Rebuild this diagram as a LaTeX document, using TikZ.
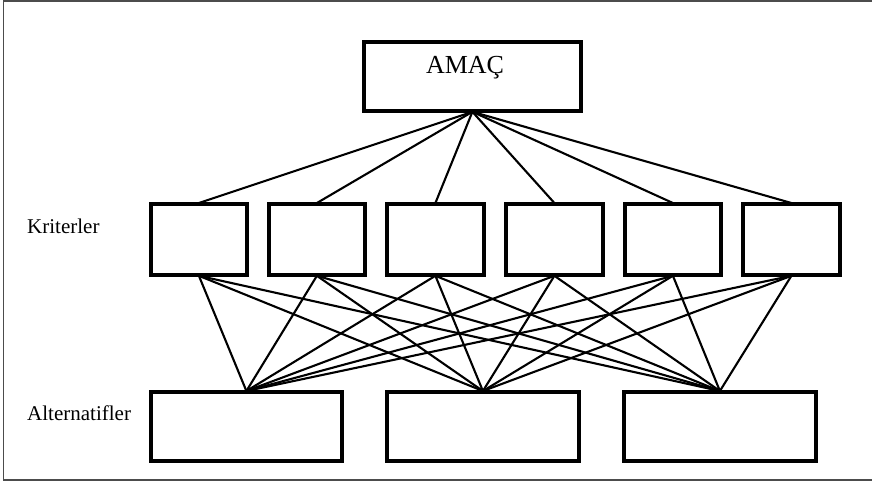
\documentclass[tikz,border=0pt]{standalone}
\usepackage{fontspec}
\setmainfont{Liberation Serif}
\begin{document}
\begin{tikzpicture}[x=1pt,y=-1pt,
  box/.style={draw=black,line width=2.8pt,fill=white,rectangle,inner sep=0pt,anchor=north west},
  conn/.style={draw=black,line width=2.1pt},
  lbl/.style={font=\fontsize{21}{24}\selectfont,inner sep=0pt,anchor=west}]
\useasboundingbox (0,0) rectangle (872,483);
\begin{scope}
\clip (0,0) rectangle (872,483);
\draw[line width=1.8pt,draw=black!70] (3.5,1) rectangle (880,480);
\end{scope}
% goal
\node[box,minimum width=216pt,minimum height=68pt] (goal) at (363,41) {};
\node[font=\fontsize{26}{30}\selectfont,inner sep=0pt] (goaltxt) at (465,68) {AMAÇ};
% criteria
\foreach \i/\x in {1/150,2/268,3/386.5,4/505.5,5/624,6/742.5}{
  \node[box,minimum width=95pt,minimum height=70pt] (c\i) at (\x,203) {};
}
% alternatives
\foreach \i/\x in {1/150,2/386.5,3/623.5}{
  \node[box,minimum width=190pt,minimum height=68pt] (a\i) at (\x,391) {};
}
% connectors
\foreach \i in {1,...,6}{
  \draw[conn] (goal.south) -- (c\i.north);
  \foreach \j in {1,2,3}{
    \draw[conn] (c\i.south) -- (a\j.north);
  }
}
% redraw box borders on top
\foreach \n in {goal,c1,c2,c3,c4,c5,c6,a1,a2,a3}{
  \draw[line width=2.8pt] (\n.north west) rectangle (\n.south east);
}
\node[lbl] (krit) at (27,226) {Kriterler};
\node[lbl] (alt) at (27,413) {Alternatifler};
\end{tikzpicture}
\end{document}
